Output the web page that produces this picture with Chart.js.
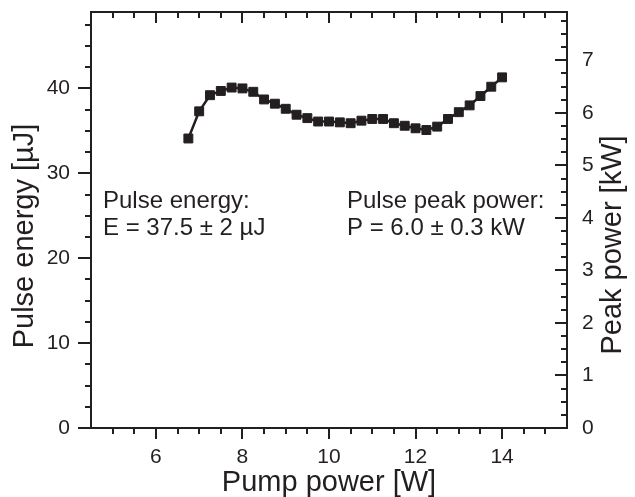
<!DOCTYPE html>
<html>
<head>
<meta charset="utf-8">
<script src="https://cdn.jsdelivr.net/npm/chart.js@4/dist/chart.umd.min.js"></script>
<style>
  html, body { margin: 0; padding: 0; background: #fff; }
  #wrap { width: 635px; height: 497px; }
</style>
</head>
<body>
<div id="wrap"><canvas id="chart" width="635" height="497"></canvas></div>
<script>
// pump power [W] and measured pulse energy [uJ]
const pumpPower = [6.75, 7.0, 7.25, 7.5, 7.75, 8.0, 8.25, 8.5, 8.75, 9.0,
                   9.25, 9.5, 9.75, 10.0, 10.25, 10.5, 10.75, 11.0, 11.25, 11.5,
                   11.75, 12.0, 12.25, 12.5, 12.75, 13.0, 13.25, 13.5, 13.75, 14.0];
const pulseEnergy = [34.1, 37.3, 39.2, 39.7, 40.1, 40.0, 39.6, 38.7, 38.2, 37.6,
                     36.9, 36.5, 36.1, 36.1, 36.0, 35.9, 36.2, 36.4, 36.4, 35.9,
                     35.6, 35.3, 35.1, 35.5, 36.4, 37.2, 38.0, 39.1, 40.2, 41.3];

// axis ticks
const xTicks = [6, 8, 10, 12, 14];
const energyTicks = [0, 10, 20, 30, 40];
const peakTicks = [0, 1, 2, 3, 4, 5, 6, 7];

const INK = '#231f20';
const FONT = '"Liberation Sans", Arial, sans-serif';

// fixed axis box sizes, no extra label padding
function fixBox(size, horizontal) {
  return s => {
    if (horizontal) s.height = size; else s.width = size;
    s.paddingTop = 0; s.paddingBottom = 0;
    s.paddingLeft = 0; s.paddingRight = 0;
  };
}

// frame, inner/outer tick marks, axis titles and the two notes
const framePlugin = {
  id: 'frame',
  afterDraw(chart) {
    const { ctx, chartArea: a, scales } = chart;
    const x = scales.x, y = scales.y, y2 = scales.y2;
    ctx.save();
    ctx.strokeStyle = INK;
    ctx.lineWidth = 2;
    ctx.lineCap = 'butt';
    ctx.strokeRect(a.left, a.top, a.right - a.left, a.bottom - a.top);

    ctx.beginPath();
    // x: every 0.5 W, major on even values
    for (let v = 5; v <= 15.01; v += 0.5) {
      const px = Math.round(x.getPixelForValue(v));
      const major = Math.abs(v % 2) < 1e-6;
      ctx.moveTo(px, a.bottom); ctx.lineTo(px, a.bottom + (major ? 11 : 6));
      ctx.moveTo(px, a.top); ctx.lineTo(px, a.top + (major ? 11 : 6));
    }
    // left: every 2.5 uJ
    for (let v = 0; v <= 48; v += 2.5) {
      const py = Math.round(y.getPixelForValue(v));
      const major = Math.abs(v % 10) < 1e-6;
      ctx.moveTo(a.left, py); ctx.lineTo(a.left - (major ? 13 : 6), py);
    }
    // right: every 0.25 kW, ticks pointing in
    for (let v = 0; v <= 7.8; v += 0.25) {
      const py = Math.round(y2.getPixelForValue(v));
      const major = Math.abs(v % 1) < 1e-6;
      ctx.moveTo(a.right, py); ctx.lineTo(a.right - (major ? 12 : 6), py);
    }
    ctx.stroke();

    ctx.fillStyle = INK;
    ctx.font = '29px ' + FONT;
    ctx.textAlign = 'center';
    ctx.textBaseline = 'alphabetic';
    ctx.fillText('Pump power [W]', (a.left + a.right) / 2, 491);

    ctx.textBaseline = 'middle';
    ctx.save();
    ctx.translate(25, 236);
    ctx.rotate(-Math.PI / 2);
    ctx.fillText('Pulse energy [µJ]', 0, 0);
    ctx.restore();
    ctx.save();
    ctx.translate(613, 245);
    ctx.rotate(-Math.PI / 2);
    ctx.fillText('Peak power [kW]', 0, 0);
    ctx.restore();

    ctx.font = '24px ' + FONT;
    ctx.textAlign = 'left';
    ctx.textBaseline = 'alphabetic';
    ctx.fillText('Pulse energy:', 103, 208);
    ctx.fillText('E = 37.5 ± 2 µJ', 103, 235);
    ctx.fillText('Pulse peak power:', 347, 208);
    ctx.fillText('P = 6.0 ± 0.3 kW', 347, 235);
    ctx.restore();
  }
};

const tickFont = { family: FONT, size: 21 };
const noGrid = { display: false, drawTicks: false };

new Chart(document.getElementById('chart'), {
  type: 'line',
  data: {
    datasets: [{
      data: pumpPower.map((p, i) => ({ x: p, y: pulseEnergy[i] })),
      borderColor: INK,
      backgroundColor: INK,
      borderWidth: 2.5,
      pointStyle: 'rect',
      pointRadius: 6.3,
      pointBorderWidth: 1,
      tension: 0,
      yAxisID: 'y'
    }]
  },
  options: {
    responsive: false,
    animation: false,
    devicePixelRatio: 1,
    layout: { padding: { top: 12, left: 0, right: 0, bottom: 0 } },
    plugins: { legend: { display: false }, tooltip: { enabled: false } },
    scales: {
      x: {
        type: 'linear', min: 4.5, max: 15.5,
        grid: noGrid, border: { display: false },
        afterBuildTicks: s => { s.ticks = xTicks.map(v => ({ value: v })); },
        afterFit: fixBox(69, true),
        ticks: { font: tickFont, color: INK, padding: 17, maxRotation: 0 }
      },
      y: {
        type: 'linear', position: 'left', min: 0, max: 49,
        grid: noGrid, border: { display: false },
        afterBuildTicks: s => { s.ticks = energyTicks.map(v => ({ value: v })); },
        afterFit: fixBox(91, false),
        ticks: { font: tickFont, color: INK, padding: 21 }
      },
      y2: {
        type: 'linear', position: 'right', min: 0, max: 7.92,
        grid: noGrid, border: { display: false },
        afterBuildTicks: s => { s.ticks = peakTicks.map(v => ({ value: v })); },
        afterFit: fixBox(68, false),
        ticks: { font: tickFont, color: INK, padding: 15 }
      }
    }
  },
  plugins: [framePlugin]
});
</script>
</body>
</html>
